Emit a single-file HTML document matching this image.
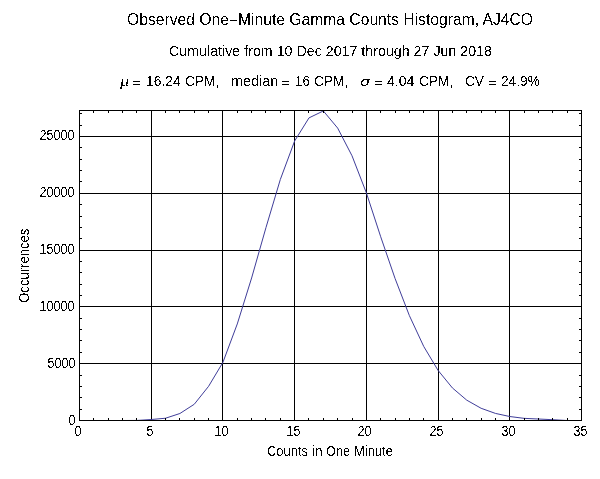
<!DOCTYPE html>
<html><head><meta charset="utf-8"><style>
html,body{margin:0;padding:0;background:#fff;}
body{width:600px;height:479px;overflow:hidden;}
svg{display:block;}
text{font-family:"Liberation Sans",Arial,sans-serif;fill:#000;}
text.g{font-family:"Liberation Serif","Times New Roman",serif;font-style:italic;}
</style></head><body>
<svg width="600" height="479" viewBox="0 0 600 479">
<defs><filter id="crisp" x="0" y="0" width="600" height="479" filterUnits="userSpaceOnUse"><feComponentTransfer><feFuncA type="discrete" tableValues="0 1"/></feComponentTransfer></filter><filter id="crisp2" x="0" y="0" width="600" height="479" filterUnits="userSpaceOnUse"><feComponentTransfer><feFuncA type="linear" slope="50" intercept="-25"/></feComponentTransfer></filter></defs>
<rect width="600" height="479" fill="#fff"/>
<g stroke="#000" stroke-width="1" shape-rendering="crispEdges">
<line x1="151.5" y1="110" x2="151.5" y2="421"/>
<line x1="222.5" y1="110" x2="222.5" y2="421"/>
<line x1="294.5" y1="110" x2="294.5" y2="421"/>
<line x1="366.5" y1="110" x2="366.5" y2="421"/>
<line x1="438.5" y1="110" x2="438.5" y2="421"/>
<line x1="509.5" y1="110" x2="509.5" y2="421"/>
<line x1="79" y1="363.5" x2="582" y2="363.5"/>
<line x1="79" y1="306.5" x2="582" y2="306.5"/>
<line x1="79" y1="250.5" x2="582" y2="250.5"/>
<line x1="79" y1="193.5" x2="582" y2="193.5"/>
<line x1="79" y1="136.5" x2="582" y2="136.5"/>
</g>
<polyline points="93.84,420.50 108.19,420.50 122.53,420.50 136.87,420.44 151.21,419.53 165.56,418.23 179.90,413.51 194.24,404.27 208.59,386.31 222.93,362.34 237.27,323.96 251.61,277.98 265.96,227.62 280.30,179.54 294.64,140.99 308.99,117.89 323.33,110.94 337.67,128.09 352.01,155.77 366.36,192.85 380.70,236.76 395.04,278.41 409.39,315.61 423.73,346.44 438.07,370.39 452.41,387.95 466.76,400.17 481.10,408.27 495.44,413.41 509.79,416.53 524.13,418.35 538.47,419.02 552.81,419.70 567.16,420.50 581.50,420.50" fill="none" stroke="#3f3d99" stroke-width="1" stroke-linejoin="round"/>
<g stroke="#000" stroke-width="1" shape-rendering="crispEdges">
<line x1="93.5" y1="111" x2="93.5" y2="113"/>
<line x1="93.5" y1="418" x2="93.5" y2="420"/>
<line x1="108.5" y1="111" x2="108.5" y2="113"/>
<line x1="108.5" y1="418" x2="108.5" y2="420"/>
<line x1="122.5" y1="111" x2="122.5" y2="113"/>
<line x1="122.5" y1="418" x2="122.5" y2="420"/>
<line x1="136.5" y1="111" x2="136.5" y2="113"/>
<line x1="136.5" y1="418" x2="136.5" y2="420"/>
<line x1="165.5" y1="111" x2="165.5" y2="113"/>
<line x1="165.5" y1="418" x2="165.5" y2="420"/>
<line x1="179.5" y1="111" x2="179.5" y2="113"/>
<line x1="179.5" y1="418" x2="179.5" y2="420"/>
<line x1="194.5" y1="111" x2="194.5" y2="113"/>
<line x1="194.5" y1="418" x2="194.5" y2="420"/>
<line x1="208.5" y1="111" x2="208.5" y2="113"/>
<line x1="208.5" y1="418" x2="208.5" y2="420"/>
<line x1="237.5" y1="111" x2="237.5" y2="113"/>
<line x1="237.5" y1="418" x2="237.5" y2="420"/>
<line x1="251.5" y1="111" x2="251.5" y2="113"/>
<line x1="251.5" y1="418" x2="251.5" y2="420"/>
<line x1="265.5" y1="111" x2="265.5" y2="113"/>
<line x1="265.5" y1="418" x2="265.5" y2="420"/>
<line x1="280.5" y1="111" x2="280.5" y2="113"/>
<line x1="280.5" y1="418" x2="280.5" y2="420"/>
<line x1="308.5" y1="111" x2="308.5" y2="113"/>
<line x1="308.5" y1="418" x2="308.5" y2="420"/>
<line x1="323.5" y1="111" x2="323.5" y2="113"/>
<line x1="323.5" y1="418" x2="323.5" y2="420"/>
<line x1="337.5" y1="111" x2="337.5" y2="113"/>
<line x1="337.5" y1="418" x2="337.5" y2="420"/>
<line x1="352.5" y1="111" x2="352.5" y2="113"/>
<line x1="352.5" y1="418" x2="352.5" y2="420"/>
<line x1="380.5" y1="111" x2="380.5" y2="113"/>
<line x1="380.5" y1="418" x2="380.5" y2="420"/>
<line x1="395.5" y1="111" x2="395.5" y2="113"/>
<line x1="395.5" y1="418" x2="395.5" y2="420"/>
<line x1="409.5" y1="111" x2="409.5" y2="113"/>
<line x1="409.5" y1="418" x2="409.5" y2="420"/>
<line x1="423.5" y1="111" x2="423.5" y2="113"/>
<line x1="423.5" y1="418" x2="423.5" y2="420"/>
<line x1="452.5" y1="111" x2="452.5" y2="113"/>
<line x1="452.5" y1="418" x2="452.5" y2="420"/>
<line x1="466.5" y1="111" x2="466.5" y2="113"/>
<line x1="466.5" y1="418" x2="466.5" y2="420"/>
<line x1="481.5" y1="111" x2="481.5" y2="113"/>
<line x1="481.5" y1="418" x2="481.5" y2="420"/>
<line x1="495.5" y1="111" x2="495.5" y2="113"/>
<line x1="495.5" y1="418" x2="495.5" y2="420"/>
<line x1="524.5" y1="111" x2="524.5" y2="113"/>
<line x1="524.5" y1="418" x2="524.5" y2="420"/>
<line x1="538.5" y1="111" x2="538.5" y2="113"/>
<line x1="538.5" y1="418" x2="538.5" y2="420"/>
<line x1="552.5" y1="111" x2="552.5" y2="113"/>
<line x1="552.5" y1="418" x2="552.5" y2="420"/>
<line x1="567.5" y1="111" x2="567.5" y2="113"/>
<line x1="567.5" y1="418" x2="567.5" y2="420"/>
<line x1="80" y1="409.5" x2="82" y2="409.5"/>
<line x1="579" y1="409.5" x2="581" y2="409.5"/>
<line x1="80" y1="397.5" x2="82" y2="397.5"/>
<line x1="579" y1="397.5" x2="581" y2="397.5"/>
<line x1="80" y1="386.5" x2="82" y2="386.5"/>
<line x1="579" y1="386.5" x2="581" y2="386.5"/>
<line x1="80" y1="375.5" x2="82" y2="375.5"/>
<line x1="579" y1="375.5" x2="581" y2="375.5"/>
<line x1="80" y1="352.5" x2="82" y2="352.5"/>
<line x1="579" y1="352.5" x2="581" y2="352.5"/>
<line x1="80" y1="340.5" x2="82" y2="340.5"/>
<line x1="579" y1="340.5" x2="581" y2="340.5"/>
<line x1="80" y1="329.5" x2="82" y2="329.5"/>
<line x1="579" y1="329.5" x2="581" y2="329.5"/>
<line x1="80" y1="318.5" x2="82" y2="318.5"/>
<line x1="579" y1="318.5" x2="581" y2="318.5"/>
<line x1="80" y1="295.5" x2="82" y2="295.5"/>
<line x1="579" y1="295.5" x2="581" y2="295.5"/>
<line x1="80" y1="284.5" x2="82" y2="284.5"/>
<line x1="579" y1="284.5" x2="581" y2="284.5"/>
<line x1="80" y1="272.5" x2="82" y2="272.5"/>
<line x1="579" y1="272.5" x2="581" y2="272.5"/>
<line x1="80" y1="261.5" x2="82" y2="261.5"/>
<line x1="579" y1="261.5" x2="581" y2="261.5"/>
<line x1="80" y1="238.5" x2="82" y2="238.5"/>
<line x1="579" y1="238.5" x2="581" y2="238.5"/>
<line x1="80" y1="227.5" x2="82" y2="227.5"/>
<line x1="579" y1="227.5" x2="581" y2="227.5"/>
<line x1="80" y1="216.5" x2="82" y2="216.5"/>
<line x1="579" y1="216.5" x2="581" y2="216.5"/>
<line x1="80" y1="204.5" x2="82" y2="204.5"/>
<line x1="579" y1="204.5" x2="581" y2="204.5"/>
<line x1="80" y1="181.5" x2="82" y2="181.5"/>
<line x1="579" y1="181.5" x2="581" y2="181.5"/>
<line x1="80" y1="170.5" x2="82" y2="170.5"/>
<line x1="579" y1="170.5" x2="581" y2="170.5"/>
<line x1="80" y1="159.5" x2="82" y2="159.5"/>
<line x1="579" y1="159.5" x2="581" y2="159.5"/>
<line x1="80" y1="147.5" x2="82" y2="147.5"/>
<line x1="579" y1="147.5" x2="581" y2="147.5"/>
<line x1="80" y1="125.5" x2="82" y2="125.5"/>
<line x1="579" y1="125.5" x2="581" y2="125.5"/>
<line x1="80" y1="113.5" x2="82" y2="113.5"/>
<line x1="579" y1="113.5" x2="581" y2="113.5"/>
<rect x="79.5" y="110.5" width="502" height="310" fill="none"/>
</g>
<g filter="url(#crisp)"><text x="127.00" y="25.00" font-size="17" textLength="406.01" lengthAdjust="spacingAndGlyphs">Observed One<tspan dy="0.8">−</tspan><tspan dy="-0.8">Minute Gamma Counts Histogram, AJ4CO</tspan></text></g>
<g filter="url(#crisp)"><text x="169.00" y="56.00" font-size="13.8" textLength="323.02" lengthAdjust="spacingAndGlyphs">Cumulative from 10 Dec 2017 through 27 Jun 2018</text></g>
<g filter="url(#crisp)"><text x="120.00" y="86.00" font-size="14.5" textLength="9.14" lengthAdjust="spacingAndGlyphs" class="g">μ</text></g>
<g filter="url(#crisp)"><text x="132.00" y="86.90" font-size="12" textLength="8.41" lengthAdjust="spacingAndGlyphs">=</text></g>
<g filter="url(#crisp)"><text x="146.00" y="86.00" font-size="14.5" textLength="34.65" lengthAdjust="spacingAndGlyphs">16.24</text></g>
<g filter="url(#crisp)"><text x="185.00" y="86.00" font-size="14.5" textLength="30.49" lengthAdjust="spacingAndGlyphs">CPM</text></g>
<g filter="url(#crisp)"><text x="215.50" y="86.00" font-size="14.5">,</text></g>
<g filter="url(#crisp)"><text x="231.00" y="86.00" font-size="13.8" textLength="47.25" lengthAdjust="spacingAndGlyphs">median</text></g>
<g filter="url(#crisp)"><text x="281.00" y="86.90" font-size="12" textLength="8.41" lengthAdjust="spacingAndGlyphs">=</text></g>
<g filter="url(#crisp)"><text x="295.00" y="86.00" font-size="14.5" textLength="14.79" lengthAdjust="spacingAndGlyphs">16</text></g>
<g filter="url(#crisp)"><text x="314.00" y="86.00" font-size="14.5" textLength="30.49" lengthAdjust="spacingAndGlyphs">CPM</text></g>
<g filter="url(#crisp)"><text x="344.50" y="86.00" font-size="14.5">,</text></g>
<g filter="url(#crisp)"><text x="374.00" y="86.90" font-size="12" textLength="8.41" lengthAdjust="spacingAndGlyphs">=</text></g>
<g filter="url(#crisp)"><text x="387.00" y="86.00" font-size="14.5" textLength="27.34" lengthAdjust="spacingAndGlyphs">4.04</text></g>
<g filter="url(#crisp)"><text x="419.00" y="86.00" font-size="14.5" textLength="30.49" lengthAdjust="spacingAndGlyphs">CPM</text></g>
<g filter="url(#crisp)"><text x="449.50" y="86.00" font-size="14.5">,</text></g>
<g filter="url(#crisp)"><text x="465.00" y="86.00" font-size="14.5" textLength="18.90" lengthAdjust="spacingAndGlyphs">CV</text></g>
<g filter="url(#crisp)"><text x="488.00" y="86.90" font-size="12" textLength="8.41" lengthAdjust="spacingAndGlyphs">=</text></g>
<g filter="url(#crisp)"><text x="501.00" y="86.00" font-size="14.5" textLength="38.85" lengthAdjust="spacingAndGlyphs">24.9%</text></g>
<g filter="url(#crisp)"><text x="360.00" y="86.00" font-size="12.5" textLength="10.12" lengthAdjust="spacingAndGlyphs" style="font-family:'DejaVu Sans',sans-serif;font-style:italic">σ</text></g>
<g filter="url(#crisp)"><text transform="translate(74.44,435.99) scale(0.8802,1)" font-size="14.3">0</text></g>
<g filter="url(#crisp)"><text transform="translate(146.48,435.99) scale(0.8802,1)" font-size="14.3">5</text></g>
<g filter="url(#crisp)"><text transform="translate(214.44,435.99) scale(0.8802,1)" font-size="14.3">10</text></g>
<g filter="url(#crisp)"><text transform="translate(286.48,435.99) scale(0.8802,1)" font-size="14.3">15</text></g>
<g filter="url(#crisp)"><text transform="translate(357.44,435.99) scale(0.8802,1)" font-size="14.3">20</text></g>
<g filter="url(#crisp)"><text transform="translate(429.48,435.99) scale(0.8802,1)" font-size="14.3">25</text></g>
<g filter="url(#crisp)"><text transform="translate(501.44,435.99) scale(0.8802,1)" font-size="14.3">30</text></g>
<g filter="url(#crisp)"><text transform="translate(573.48,435.99) scale(0.8802,1)" font-size="14.3">35</text></g>
<g filter="url(#crisp)"><text transform="translate(68.44,424.99) scale(0.8802,1)" font-size="14.3">0</text></g>
<g filter="url(#crisp)"><text transform="translate(47.44,367.99) scale(0.8802,1)" font-size="14.3">5000</text></g>
<g filter="url(#crisp)"><text transform="translate(39.44,310.99) scale(0.8802,1)" font-size="14.3">10000</text></g>
<g filter="url(#crisp)"><text transform="translate(39.44,253.99) scale(0.8802,1)" font-size="14.3">15000</text></g>
<g filter="url(#crisp)"><text transform="translate(39.44,196.99) scale(0.8802,1)" font-size="14.3">20000</text></g>
<g filter="url(#crisp)"><text transform="translate(39.44,139.99) scale(0.8802,1)" font-size="14.3">25000</text></g>
<g filter="url(#crisp)"><text x="267.00" y="456.00" font-size="14.3" textLength="40.95" lengthAdjust="spacingAndGlyphs">Counts</text></g>
<g filter="url(#crisp)"><text x="312.00" y="456.00" font-size="14.3" textLength="10.63" lengthAdjust="spacingAndGlyphs">in</text></g>
<g filter="url(#crisp)"><text x="326.00" y="456.00" font-size="14.3" textLength="24.20" lengthAdjust="spacingAndGlyphs">One</text></g>
<g filter="url(#crisp)"><text x="354.00" y="456.00" font-size="14.3" textLength="38.85" lengthAdjust="spacingAndGlyphs">Minute</text></g>
<g filter="url(#crisp2)"><text transform="translate(29.00,302.80) rotate(-90)" font-size="14.3" textLength="74.04" lengthAdjust="spacingAndGlyphs">Occurrences</text></g>
</svg>
</body></html>
